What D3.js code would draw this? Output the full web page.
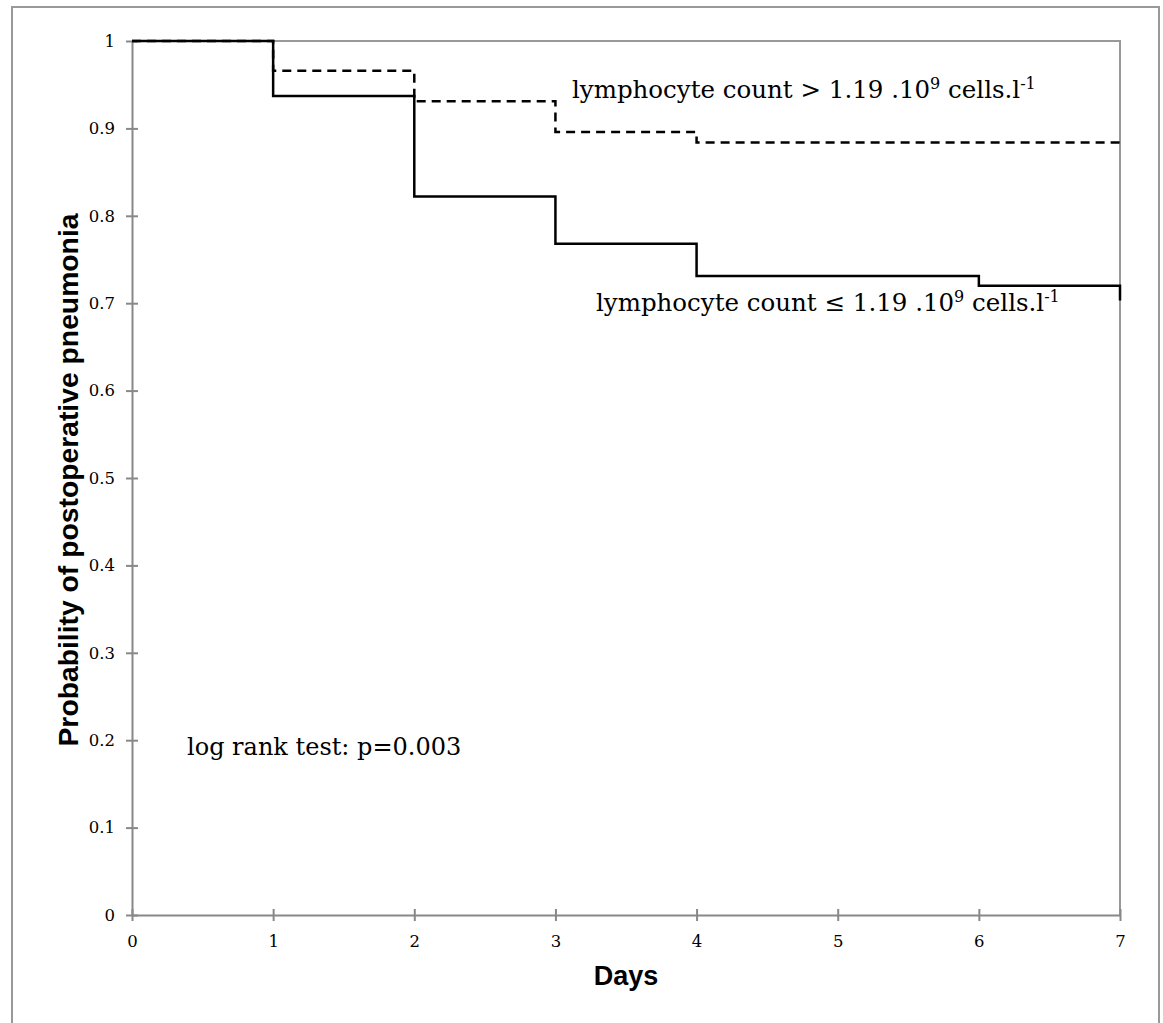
<!DOCTYPE html>
<html>
<head>
<meta charset="utf-8">
<script src="https://cdn.jsdelivr.net/npm/d3@7"></script>
<style>
  body { margin: 0; background: #fff; }
  .axis path, .axis line { stroke: #888; stroke-width: 2; }
</style>
</head>
<body>
<div id="canvas"></div>
<script>
// Kaplan-Meier step curves (day, probability)
const highDays = [0, 1, 2, 3, 4, 7];
const highProb = [1, 0.966, 0.931, 0.896, 0.884, 0.884];
const lowDays = [0, 1, 2, 3, 4, 6, 7, 7];
const lowProb = [1, 0.937, 0.822, 0.768, 0.731, 0.72, 0.72, 0.703];

const xTicks = [0, 1, 2, 3, 4, 5, 6, 7];
const yTicks = [0, 0.1, 0.2, 0.3, 0.4, 0.5, 0.6, 0.7, 0.8, 0.9, 1];

const w = 1163;
const h = 1023;
const mLeft = 132, mRight = 1120, mTop = 41, mBottom = 915;
const serif = "'DejaVu Serif', serif";

const svg = d3.select('#canvas')
  .append('svg')
  .attr('width', w)
  .attr('height', h);

// outer frame
svg.append('rect')
  .attr('x', 12).attr('y', 7)
  .attr('width', 1147).attr('height', 1030)
  .attr('fill', 'none')
  .attr('stroke', '#999')
  .attr('stroke-width', 2);

const x = d3.scaleLinear().domain([0, 7]).range([mLeft, mRight]);
const y = d3.scaleLinear().domain([0, 1]).range([mBottom, mTop]);

// plot area frame (top and right)
svg.append('path')
  .attr('d', `M${x(0)},${y(1)}H${x(7)}V${y(0)}`)
  .attr('fill', 'none')
  .attr('stroke', '#999')
  .attr('stroke-width', 2);

const xAxis = svg.append('g')
  .attr('class', 'axis')
  .attr('transform', `translate(0,${mBottom})`)
  .call(d3.axisBottom(x).tickValues(xTicks).tickFormat(d3.format('d')).tickSizeInner(6).tickSizeOuter(0));
xAxis.selectAll('.tick line').attr('y1', -6);
xAxis.selectAll('.tick text')
  .attr('y', 32).attr('dy', 0)
  .style('font-family', serif).style('font-size', '16.5px').style('fill', '#000');

const yAxis = svg.append('g')
  .attr('class', 'axis')
  .attr('transform', `translate(${mLeft},0)`)
  .call(d3.axisLeft(y).tickValues(yTicks).tickFormat(d => d === 0 || d === 1 ? d : d.toFixed(1)).tickSizeInner(6).tickSizeOuter(0));
yAxis.selectAll('.tick line').attr('x1', 6).attr('x2', -6);
yAxis.selectAll('.tick text')
  .attr('x', -17)
  .style('font-family', serif).style('font-size', '16.5px').style('fill', '#000');

const line = d3.line()
  .x(d => x(d[0]))
  .y(d => y(d[1]))
  .curve(d3.curveStepAfter);

svg.append('path')
  .datum(highDays.map((d, i) => [d, highProb[i]]))
  .attr('d', line)
  .attr('fill', 'none')
  .attr('stroke', '#000')
  .attr('stroke-width', 2.5)
  .attr('stroke-dasharray', '9,6');

svg.append('path')
  .datum(lowDays.map((d, i) => [d, lowProb[i]]))
  .attr('d', line)
  .attr('fill', 'none')
  .attr('stroke', '#000')
  .attr('stroke-width', 2.5);

// axis titles
svg.append('text')
  .attr('transform', `translate(78,480) rotate(-90)`)
  .attr('text-anchor', 'middle')
  .style('font-family', 'Liberation Sans, Arial, sans-serif')
  .style('font-weight', 'bold')
  .style('font-size', '28.3px')
  .text('Probability of postoperative pneumonia');

svg.append('text')
  .attr('x', 626)
  .attr('y', 985)
  .attr('text-anchor', 'middle')
  .style('font-family', 'Liberation Sans, Arial, sans-serif')
  .style('font-weight', 'bold')
  .style('font-size', '27px')
  .text('Days');

// annotations
function label(tx, ty, rel) {
  const t = svg.append('text')
    .attr('x', tx).attr('y', ty)
    .style('font-family', serif)
    .style('font-size', '24.5px');
  t.append('tspan').text('lymphocyte count ' + rel + ' 1.19 .10');
  t.append('tspan').attr('dy', -9).style('font-size', '16px').text('9');
  t.append('tspan').attr('dy', 9).text(' cells.l');
  t.append('tspan').attr('dy', -9).style('font-size', '16px').text('-1');
}
label(572, 98, '>');
label(596, 311, '\u2264');

svg.append('text')
  .attr('x', 187).attr('y', 755)
  .style('font-family', serif)
  .style('font-size', '24px')
  .text('log rank test: p=0.003');
</script>
</body>
</html>
